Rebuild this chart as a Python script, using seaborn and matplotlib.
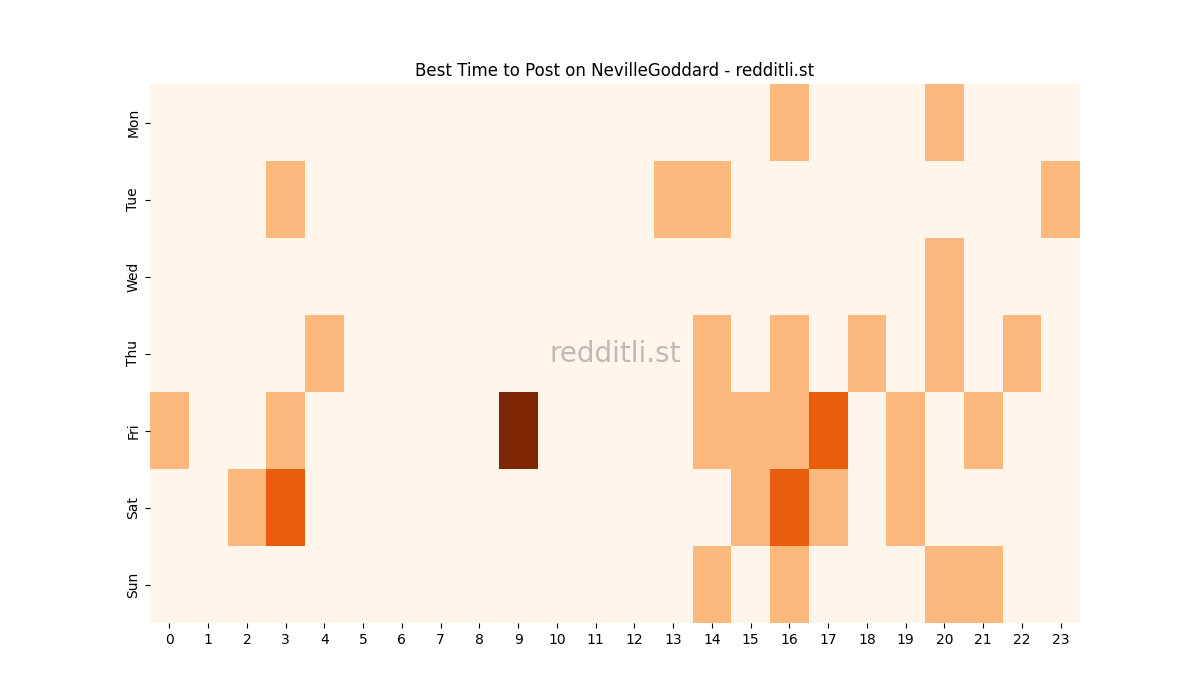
import matplotlib
matplotlib.use("Agg")
import matplotlib.pyplot as plt
import seaborn as sns
import pandas as pd
import numpy as np

days = ["Mon", "Tue", "Wed", "Thu", "Fri", "Sat", "Sun"]
hours = list(range(24))
mon = [0]*24; mon[16]=1; mon[20]=1
tue = [0]*24; tue[3]=1; tue[13]=1; tue[14]=1; tue[23]=1
wed = [0]*24; wed[20]=1
thu = [0]*24; thu[4]=1; thu[14]=1; thu[16]=1; thu[18]=1; thu[20]=1; thu[22]=1
fri = [0]*24; fri[0]=1; fri[3]=1; fri[9]=3; fri[14]=1; fri[15]=1; fri[16]=1; fri[17]=2; fri[19]=1; fri[21]=1
sat = [0]*24; sat[2]=1; sat[3]=2; sat[15]=1; sat[16]=2; sat[17]=1; sat[19]=1
sun = [0]*24; sun[14]=1; sun[16]=1; sun[20]=1; sun[21]=1

df = pd.DataFrame([mon, tue, wed, thu, fri, sat, sun], index=days, columns=hours)

fig, ax = plt.subplots(figsize=(12, 7), dpi=100)
sns.heatmap(df, cmap="Oranges", vmin=0, vmax=3, cbar=False, ax=ax)
ax.set_title("Best Time to Post on NevilleGoddard - redditli.st")
ax.set_xlabel("")
ax.set_ylabel("")
plt.setp(ax.get_yticklabels(), rotation=90, va="center")
plt.setp(ax.get_xticklabels(), rotation=0)
ax.text(0.5, 0.5, "redditli.st", transform=ax.transAxes, ha="center", va="center",
        fontsize=20, color="gray", alpha=0.5)
fig.savefig("out.png")
